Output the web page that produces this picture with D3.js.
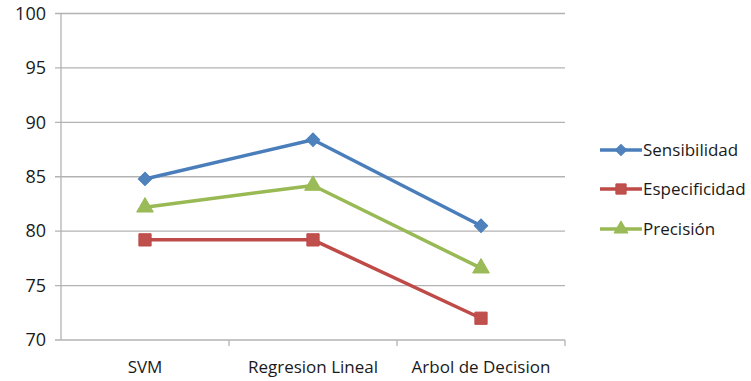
<!DOCTYPE html>
<html><head><meta charset="utf-8">
<script src="https://cdn.jsdelivr.net/npm/d3@7"></script>
<style>body{margin:0;background:#fff}svg{display:block}text{font-family:"Open Sans",sans-serif;fill:#1a1a1a}</style>
</head><body>
<script>
const categories = ["SVM", "Regresion Lineal", "Arbol de Decision"];
const sensibilidad = [84.8, 88.4, 80.5];
const especificidad = [79.2, 79.2, 72.0];
const precision = [82.2, 84.2, 76.6];
const yTicks = [70, 75, 80, 85, 90, 95, 100];
const seriesNames = ["Sensibilidad", "Especificidad", "Precisión"];

const series = [
  {name: seriesNames[0], values: sensibilidad, line: "#4a7ebb", fill: "#4f81bd", sym: "diamond"},
  {name: seriesNames[1], values: especificidad, line: "#be4b48", fill: "#c0504d", sym: "square"},
  {name: seriesNames[2], values: precision, line: "#98b954", fill: "#9bbb59", sym: "triangle"}
];

const W = 751, H = 381;
const svg = d3.select("body").append("svg").attr("width", W).attr("height", H);
const x = d3.scaleBand().domain(categories).range([61, 565]);
const y = d3.scaleLinear().domain([70, 100]).range([340, 13.5]);

// gridlines
svg.append("g").selectAll("line").data(yTicks).join("line")
  .attr("x1", 55).attr("x2", 565)
  .attr("y1", d => y(d)).attr("y2", d => y(d))
  .attr("stroke", "#b3b3b3").attr("stroke-width", 1.3);

// y axis line
svg.append("line").attr("x1", 61).attr("x2", 61).attr("y1", y(100)).attr("y2", y(70))
  .attr("stroke", "#b3b3b3").attr("stroke-width", 1.3);

// y labels
svg.append("g").selectAll("text").data(yTicks).join("text")
  .attr("x", 46).attr("y", d => y(d)).attr("dy", "0.35em")
  .attr("text-anchor", "end").style("font-size", "18px").text(d => d);

// x ticks
const xEdges = categories.map(c => x(c)).concat([x.range()[1]]);
svg.append("g").selectAll("line").data(xEdges.slice(1)).join("line")
  .attr("x1", d => d).attr("x2", d => d).attr("y1", 340).attr("y2", 346)
  .attr("stroke", "#b3b3b3").attr("stroke-width", 1.3);

// x labels
svg.append("g").selectAll("text").data(categories).join("text")
  .attr("x", d => x(d) + x.bandwidth() / 2).attr("y", 373)
  .attr("text-anchor", "middle").style("font-size", "17px").text(d => d);

const symMap = {diamond: d3.symbolSquare, square: d3.symbolSquare, triangle: d3.symbolTriangle};
const symSize = {diamond: 90, square: 150, triangle: 120};
const symRot = {diamond: 45, square: 0, triangle: 0};
const line = d3.line().x((d, i) => x(categories[i]) + x.bandwidth() / 2).y(d => y(d));

series.forEach(s => {
  svg.append("path").datum(s.values).attr("d", line)
    .attr("fill", "none").attr("stroke", s.line).attr("stroke-width", 3.5)
    .attr("stroke-linejoin", "round");
  svg.append("g").selectAll("path").data(s.values).join("path")
    .attr("transform", (d, i) => `translate(${x(categories[i]) + x.bandwidth() / 2},${y(d)}) rotate(${symRot[s.sym]})`)
    .attr("d", d3.symbol().type(symMap[s.sym]).size(symSize[s.sym]))
    .attr("fill", s.fill).attr("stroke", s.line).attr("stroke-width", 1);
});

// legend
const legY = [150, 189, 229];
series.forEach((s, i) => {
  const g = svg.append("g").attr("transform", `translate(600,${legY[i]})`);
  g.append("line").attr("x1", 0).attr("x2", 42).attr("stroke", s.line).attr("stroke-width", 3.5);
  g.append("path").attr("transform", `translate(21,0) rotate(${symRot[s.sym]})`)
    .attr("d", d3.symbol().type(symMap[s.sym]).size(symSize[s.sym] * 0.7))
    .attr("fill", s.fill).attr("stroke", s.line).attr("stroke-width", 1);
  g.append("text").attr("x", 43).attr("dy", "0.35em").style("font-size", "17px").text(s.name);
});
</script>
</body></html>
